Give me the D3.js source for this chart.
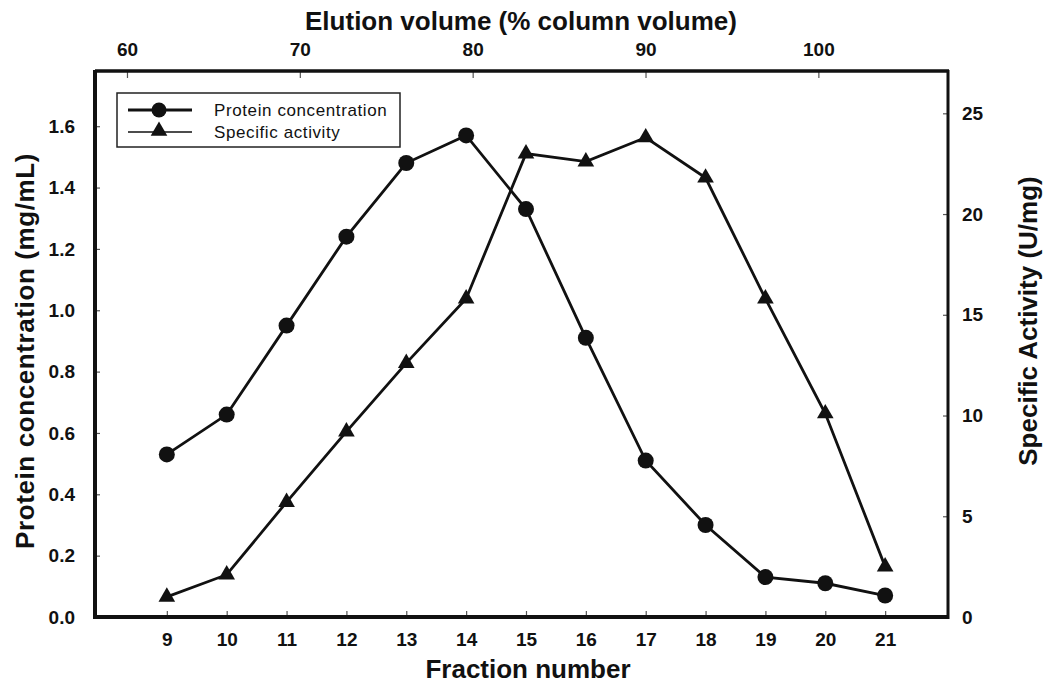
<!DOCTYPE html>
<html>
<head>
<meta charset="utf-8">
<script src="https://cdn.jsdelivr.net/npm/d3@7"></script>
<style>
  body { margin: 0; background: #fff; }
  text { font-family: "Liberation Sans", Arial, sans-serif; fill: #111; }
  .tick text { font-weight: bold; font-size: 19px; }
  .title { font-weight: bold; font-size: 26px; }
</style>
</head>
<body>
<div class="chart"></div>
<script>
const fractions = [9, 10, 11, 12, 13, 14, 15, 16, 17, 18, 19, 20, 21];
const protein = [0.53, 0.66, 0.95, 1.24, 1.48, 1.57, 1.33, 0.91, 0.51, 0.30, 0.13, 0.11, 0.07];
const activity = [1.0, 2.1, 5.7, 9.2, 12.6, 15.8, 23.0, 22.6, 23.8, 21.8, 15.8, 10.1, 2.5];
const leftTicks = [0.0, 0.2, 0.4, 0.6, 0.8, 1.0, 1.2, 1.4, 1.6];
const rightTicks = [0, 5, 10, 15, 20, 25];
const topTicks = [60, 70, 80, 90, 100];

const w = 1044;
const h = 685;
const plotLeft = 95, plotRight = 948, plotTop = 71, plotBottom = 617;

const svg = d3.select(".chart")
    .append("svg")
    .attr("width", w)
    .attr("height", h);

const x = d3.scaleLinear().domain([7.8, 22.05]).range([plotLeft, plotRight]);
const xTop = d3.scaleLinear().domain([58.15, 107.5]).range([plotLeft, plotRight]);
const yLeft = d3.scaleLinear().domain([0, 1.78]).range([plotBottom, plotTop]);
const yRight = d3.scaleLinear().domain([0, 27.1]).range([plotBottom, plotTop]);

// axes (ticks point into the plot)
const xAxis = d3.axisBottom(x).tickValues(fractions).tickSizeInner(-6).tickSizeOuter(0).tickPadding(16);
const xTopAxis = d3.axisTop(xTop).tickValues(topTicks).tickSizeInner(-7).tickSizeOuter(0).tickPadding(15);
const yAxis = d3.axisLeft(yLeft).tickValues(leftTicks).tickFormat(d3.format(".1f")).tickSizeInner(-5).tickSizeOuter(0).tickPadding(20);
const yRightAxis = d3.axisRight(yRight).tickValues(rightTicks).tickSizeInner(-5).tickSizeOuter(0).tickPadding(14);

function styleAxis(g) {
    g.select(".domain").remove();
    g.selectAll(".tick line").attr("stroke", "#555").attr("stroke-width", 1.2);
}

svg.append("g").attr("transform", `translate(0, ${plotBottom})`).call(xAxis).call(styleAxis);
svg.append("g").attr("transform", `translate(0, ${plotTop})`).call(xTopAxis).call(styleAxis);
svg.append("g").attr("transform", `translate(${plotLeft}, 0)`).call(yAxis).call(styleAxis);
svg.append("g").attr("transform", `translate(${plotRight}, 0)`).call(yRightAxis).call(styleAxis);

// frame
svg.append("line").attr("x1", plotLeft).attr("x2", plotLeft).attr("y1", plotTop - 1).attr("y2", plotBottom + 2)
    .attr("stroke", "#111").attr("stroke-width", 4);
svg.append("line").attr("x1", plotLeft - 2).attr("x2", plotRight + 1).attr("y1", plotBottom).attr("y2", plotBottom)
    .attr("stroke", "#111").attr("stroke-width", 4);
svg.append("line").attr("x1", plotLeft).attr("x2", plotRight + 1).attr("y1", plotTop).attr("y2", plotTop)
    .attr("stroke", "#111").attr("stroke-width", 3.5);
svg.append("line").attr("x1", plotRight).attr("x2", plotRight).attr("y1", plotTop - 1).attr("y2", plotBottom + 2)
    .attr("stroke", "#111").attr("stroke-width", 3);

// lines
const proteinData = fractions.map((f, i) => ({ f: f, v: protein[i] }));
const activityData = fractions.map((f, i) => ({ f: f, v: activity[i] }));

svg.append("path")
    .datum(proteinData)
    .attr("fill", "none")
    .attr("stroke", "#111")
    .attr("stroke-width", 2.8)
    .attr("d", d3.line().x(d => x(d.f)).y(d => yLeft(d.v)));

svg.append("path")
    .datum(activityData)
    .attr("fill", "none")
    .attr("stroke", "#111")
    .attr("stroke-width", 2.8)
    .attr("d", d3.line().x(d => x(d.f)).y(d => yRight(d.v)));

const tri = d3.symbol().type(d3.symbolTriangle).size(120);

svg.selectAll(".circ")
    .data(proteinData)
    .enter()
    .append("circle")
    .attr("cx", d => x(d.f))
    .attr("cy", d => yLeft(d.v))
    .attr("r", 8)
    .attr("fill", "#111");

svg.selectAll(".tri")
    .data(activityData)
    .enter()
    .append("path")
    .attr("d", tri)
    .attr("transform", d => `translate(${x(d.f)}, ${yRight(d.v)})`)
    .attr("fill", "#111");

// titles
svg.append("text").attr("class", "title")
    .attr("x", 521).attr("y", 30).attr("text-anchor", "middle")
    .text("Elution volume (% column volume)");
svg.append("text").attr("class", "title")
    .attr("x", 528).attr("y", 678).attr("text-anchor", "middle")
    .text("Fraction number");
svg.append("text").attr("class", "title")
    .attr("transform", "translate(34, 351) rotate(-90)").attr("text-anchor", "middle")
    .style("letter-spacing", "0.6px")
    .text("Protein concentration (mg/mL)");
svg.append("text").attr("class", "title")
    .attr("transform", "translate(1037, 321) rotate(-90)").attr("text-anchor", "middle")
    .text("Specific Activity (U/mg)");

// legend
const legend = svg.append("g").attr("id", "legend");
legend.append("rect")
    .attr("x", 117).attr("y", 93).attr("width", 283).attr("height", 54)
    .attr("fill", "#fff").attr("stroke", "#222").attr("stroke-width", 1.5);

const legendItems = ["Protein concentration", "Specific activity"];
legendItems.forEach((label, i) => {
    const ly = 110 + i * 22;
    legend.append("line").attr("x1", 128).attr("x2", 192).attr("y1", ly).attr("y2", ly)
        .attr("stroke", "#111").attr("stroke-width", i === 0 ? 2.8 : 1.6);
    if (i === 0) {
        legend.append("circle").attr("cx", 159).attr("cy", ly).attr("r", 7.5).attr("fill", "#111");
    } else {
        legend.append("path").attr("d", tri).attr("transform", `translate(159, ${ly - 1})`).attr("fill", "#111");
    }
    legend.append("text")
        .attr("x", 214).attr("y", ly + 6)
        .style("font-size", "17px")
        .style("letter-spacing", "0.6px")
        .text(label);
});
</script>
</body>
</html>
